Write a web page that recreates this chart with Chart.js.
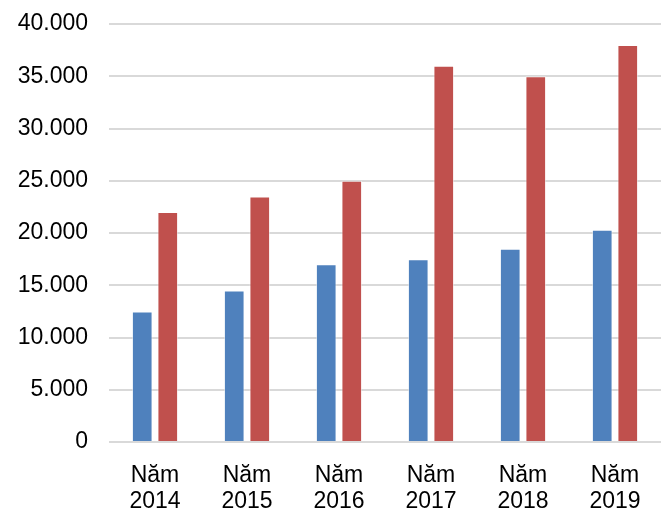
<!doctype html>
<html lang="vi">
<head>
  <meta charset="utf-8">
  <title>Biểu đồ cột</title>
  <script src="https://cdn.jsdelivr.net/npm/chart.js"></script>
  <style>
    html, body { margin: 0; padding: 0; background: #fff; }
    #wrap { width: 672px; height: 509px; }
  </style>
</head>
<body>
  <div id="wrap"><canvas id="myChart"></canvas></div>
  <script>
    const labels = [['Năm', '2014'], ['Năm', '2015'], ['Năm', '2016'], ['Năm', '2017'], ['Năm', '2018'], ['Năm', '2019']];
    const seriesA = [12500, 14500, 17000, 17500, 18500, 20300];
    const seriesB = [22000, 23500, 25000, 36000, 35000, 38000];
    const yTicks = { min: 0, max: 40000, step: 5000 };

    function formatNumber(v) {
      return String(v).replace(/\B(?=(\d{3})+(?!\d))/g, '.');
    }

    const ctx = document.getElementById('myChart');
    new Chart(ctx, {
      type: 'bar',
      data: {
        labels: labels,
        datasets: [{
          label: 'Series 1',
          data: seriesA,
          backgroundColor: '#4F81BD',
          borderColor: 'rgba(255,255,255,0.5)',
          borderWidth: 1,
          categoryPercentage: 0.555,
          barPercentage: 0.81
        },
        {
          label: 'Series 2',
          data: seriesB,
          backgroundColor: '#C0504D',
          borderColor: 'rgba(255,255,255,0.5)',
          borderWidth: 1,
          categoryPercentage: 0.555,
          barPercentage: 0.81
        }]
      },
      options: {
        responsive: true,
        maintainAspectRatio: false,
        animation: false,
        layout: { padding: { top: 24, right: 11, bottom: 0, left: 0 } },
        plugins: {
          legend: { display: false },
          tooltip: { enabled: false }
        },
        scales: {
          x: {
            afterFit: function (scale) { scale.height = 67; },
            grid: { display: false, drawTicks: false },
            border: { display: false },
            ticks: {
              color: '#000',
              padding: 21,
              maxRotation: 0,
              font: { family: 'Liberation Sans, Arial, sans-serif', size: 23, lineHeight: 1.13 }
            }
          },
          y: {
            min: yTicks.min,
            max: yTicks.max,
            afterFit: function (scale) { scale.width = 109; },
            grid: { color: '#d9d9d9', lineWidth: 2, drawTicks: true, tickLength: 21, tickColor: 'rgba(0,0,0,0)' },
            border: { display: false },
            ticks: {
              stepSize: yTicks.step,
              color: '#000',
              padding: 0,
              font: { family: 'Liberation Sans, Arial, sans-serif', size: 23 },
              callback: function (value) {
                return formatNumber(value);
              }
            }
          }
        }
      }
    });
  </script>
</body>
</html>
